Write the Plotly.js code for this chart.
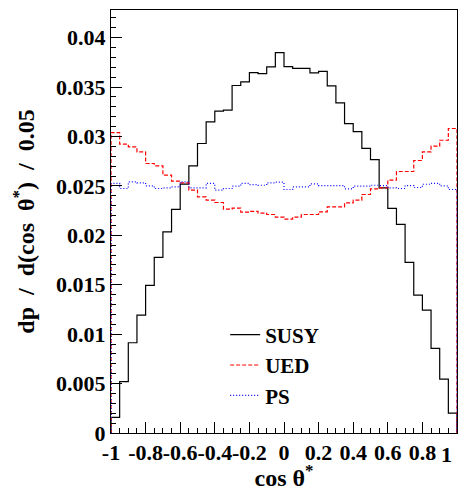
<!DOCTYPE html>
<html>
<head>
<meta charset="utf-8">
<script src="https://cdn.plot.ly/plotly-3.0.1.min.js"></script>
<style>html,body{margin:0;padding:0;background:#fff;}#chart{width:462px;height:491px;}</style>
</head>
<body>
<div id="chart"></div>
<script>
// Bin edges of cos theta* (40 bins of width 0.05)
const binEdges = [-1, -0.95, -0.9, -0.85, -0.8, -0.75, -0.7, -0.65, -0.6, -0.55,
  -0.5, -0.45, -0.4, -0.35, -0.3, -0.25, -0.2, -0.15, -0.1, -0.05,
  0, 0.05, 0.1, 0.15, 0.2, 0.25, 0.3, 0.35, 0.4, 0.45,
  0.5, 0.55, 0.6, 0.65, 0.7, 0.75, 0.8, 0.85, 0.9, 0.95, 1];

const susy = [0.00159, 0.00519, 0.00913, 0.01193, 0.01493, 0.01776, 0.02035, 0.02262, 0.02518, 0.02703,
  0.02929, 0.03148, 0.03256, 0.03266, 0.03516, 0.03552, 0.03647, 0.03637, 0.03704, 0.03849,
  0.03707, 0.0369, 0.0369, 0.03643, 0.0366, 0.03512, 0.0334, 0.03131, 0.0305, 0.02879,
  0.02767, 0.0248, 0.02272, 0.0211, 0.01726, 0.01395, 0.01244, 0.00856, 0.00546, 0.00202];

const ued = [0.0304, 0.02922, 0.02895, 0.02844, 0.02727, 0.02703, 0.02609, 0.02548, 0.02531, 0.02457,
  0.02389, 0.02356, 0.02332, 0.02265, 0.02275, 0.02235, 0.02243, 0.02225, 0.02211, 0.02184,
  0.02164, 0.02184, 0.02211, 0.02211, 0.02238, 0.02288, 0.02288, 0.02329, 0.02356, 0.02413,
  0.0247, 0.0248, 0.02558, 0.02646, 0.02646, 0.02757, 0.02844, 0.02902, 0.02962, 0.03081];

const ps = [0.02525, 0.02474, 0.02541, 0.02531, 0.02501, 0.02474, 0.0248, 0.0249, 0.02541, 0.0248,
  0.0248, 0.02525, 0.02457, 0.02474, 0.02497, 0.02525, 0.02514, 0.02507, 0.02531, 0.02538,
  0.02464, 0.0249, 0.0249, 0.0252, 0.02504, 0.02504, 0.02504, 0.0247, 0.02497, 0.02497,
  0.02507, 0.02504, 0.0248, 0.02474, 0.02504, 0.02484, 0.02517, 0.02525, 0.02501, 0.02464];

const seriesNames = ['SUSY', 'UED', 'PS'];

const xTickVals = [-1, -0.8, -0.6, -0.4, -0.2, 0, 0.2, 0.4, 0.6, 0.8, 1];
const xTickText = ['-1', '-0.8', '-0.6', '-0.4', '-0.2', '0', '0.2', '0.4', '0.6', '0.8', '1'];
const yTickVals = [0, 0.005, 0.01, 0.015, 0.02, 0.025, 0.03, 0.035, 0.04];
const yTickText = ['0', '0.005', '0.01', '0.015', '0.02', '0.025', '0.03', '0.035', '0.04'];

// Histogram outline (drops to zero at both ends) from bin edges and contents
function outline(vals) {
  const x = [binEdges[0]];
  const y = [0];
  for (let i = 0; i < vals.length; i++) { x.push(binEdges[i]); y.push(vals[i]); }
  x.push(binEdges[binEdges.length - 1]); y.push(0);
  return {x, y};
}

const styles = [
  {color: '#000000', width: 1.2, dash: 'solid'},
  {color: '#ff0000', width: 1.2, dash: '4px,2px'},
  {color: '#0000ff', width: 1.2, dash: '1px,2px'}
];

const traces = [susy, ued, ps].map((vals, k) => {
  const o = outline(vals);
  return {
    type: 'scatter', mode: 'lines', x: o.x, y: o.y, name: seriesNames[k],
    line: Object.assign({shape: 'hv'}, styles[k]), hoverinfo: 'skip'
  };
});

const FAM = 'Liberation Serif';
const fTick = {family: FAM, size: 22, color: '#000', weight: 'bold'};
const fLeg = {family: FAM, size: 21, color: '#000', weight: 'bold'};
const fTitle = {family: FAM, size: 24, color: '#000', weight: 'bold'};

// The last x label sits at the right frame edge; it is drawn right-aligned there (as in the reference)
const lastIdx = xTickText.length - 1;
const xTickTextAxis = xTickText.map((t, i) => (i === lastIdx ? '' : t));

const layout = {
  width: 462, height: 491,
  margin: {l: 111, r: 5, t: 10, b: 58},
  paper_bgcolor: '#fff', plot_bgcolor: '#fff',
  font: {family: FAM},
  showlegend: true,
  legend: {
    x: 0.33, y: 0.28, xanchor: 'left', yanchor: 'top',
    bgcolor: 'rgba(0,0,0,0)', font: fLeg,
    tracegroupgap: 0, itemwidth: 30
  },
  annotations: [{
    xref: 'x', yref: 'paper', x: xTickVals[lastIdx], y: 0,
    xanchor: 'right', yanchor: 'middle', xshift: -3, yshift: -21,
    text: xTickText[lastIdx], showarrow: false, font: fTick
  }],
  xaxis: {
    range: [-1, 1], showgrid: false, zeroline: false,
    showline: true, mirror: true, linecolor: '#000', linewidth: 1,
    tickmode: 'array', tickvals: xTickVals, ticktext: xTickTextAxis, tickangle: 0,
    ticks: 'inside', ticklen: 11, tickcolor: '#000', tickwidth: 1,
    minor: {tickmode: 'linear', tick0: -1, dtick: 0.05, ticks: 'inside', ticklen: 5, tickcolor: '#000', tickwidth: 1},
    tickfont: fTick,
    title: {text: 'cos θ<sup>*</sup>', font: fTitle, standoff: 8}
  },
  yaxis: {
    range: [0, 0.0428], showgrid: false, zeroline: false,
    showline: true, mirror: true, linecolor: '#000', linewidth: 1,
    tickmode: 'array', tickvals: yTickVals, ticktext: yTickText,
    ticks: 'inside', ticklen: 11, tickcolor: '#000', tickwidth: 1,
    minor: {tickmode: 'linear', tick0: 0, dtick: 0.001, ticks: 'inside', ticklen: 5, tickcolor: '#000', tickwidth: 1},
    tickfont: fTick,
    title: {text: 'dp\u00a0 /\u00a0 d(cos\u00a0 θ<sup>*</sup>)\u00a0 /\u00a0 0.05', font: fTitle, standoff: 14}
  }
};

Plotly.newPlot('chart', traces, layout, {displayModeBar: false, staticPlot: true});
</script>
</body>
</html>
